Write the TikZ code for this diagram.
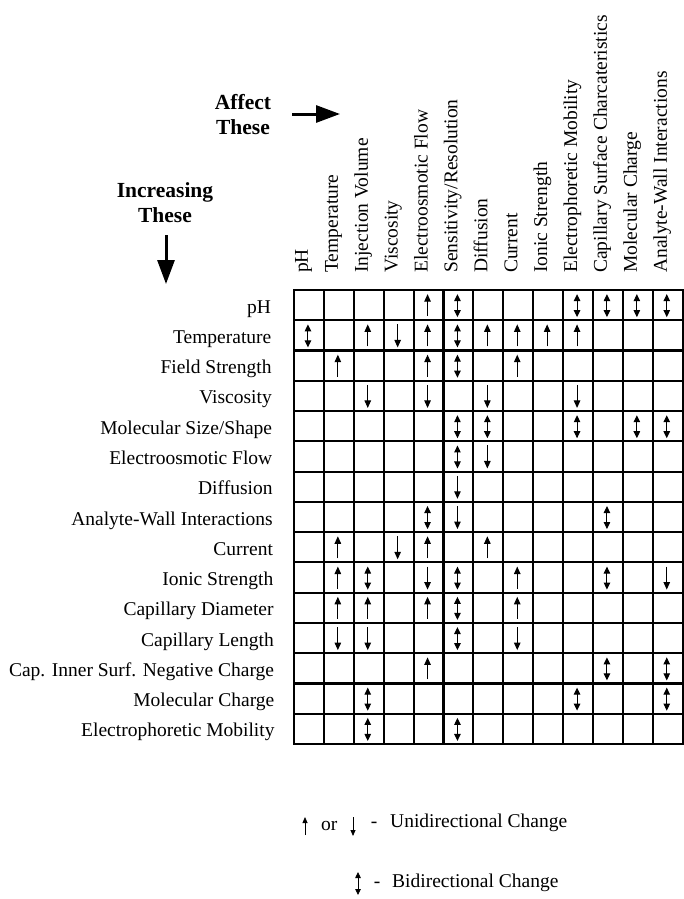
\documentclass[tikz,border=0pt]{standalone}
\usepackage{fontspec}
\setmainfont{Liberation Serif}
\usetikzlibrary{arrows.meta}
\begin{document}
\begin{tikzpicture}[x=1pt,y=-1pt,
  gridline/.style={line width=2.1pt, line cap=rect},
  uparrow/.style={line width=1pt, -{Triangle[length=7.5pt,width=6.5pt]}},
  biarrow/.style={line width=1pt, {Triangle[length=7pt,width=6.5pt]}-{Triangle[length=7pt,width=6.5pt]}},
  lgarrow/.style={line width=0.8pt, -{Triangle[length=6pt,width=5pt]}},
  lgbiarrow/.style={line width=0.8pt, {Triangle[length=6pt,width=5.5pt]}-{Triangle[length=6pt,width=5.5pt]}},
  rowlabel/.style={anchor=base east, inner sep=0pt, font=\fontsize{19.5}{22}\selectfont},
  collabel/.style={rotate=90, anchor=base west, inner sep=0pt, font=\fontsize{19.5}{22}\selectfont},
  headtext/.style={anchor=base, inner sep=0pt, font=\bfseries\fontsize{21.5}{25}\selectfont},
  legendtext/.style={anchor=base west, inner sep=0pt, font=\fontsize{19.5}{22}\selectfont},
  bigarrow/.style={line width=3pt, -{Triangle[length=24pt,width=17pt]}}
]
\useasboundingbox (0,0) rectangle (684,899);
\def\gx{294}\def\gy{290}\def\cw{29.9}\def\rh{30.27}

% header texts and arrows
\node[headtext] (affA) at (243,109) {Affect};
\node[headtext] (affB) at (243,134) {These};
\coordinate (raS) at (292,114);
\coordinate (raE) at (340,114);
\draw[bigarrow] (raS) -- (raE);
\node[headtext] (incA) at (165,197) {Increasing};
\node[headtext] (incB) at (165,222) {These};
\coordinate (daS) at (166,235);
\coordinate (daE) at (166,284);
\draw[bigarrow] (daS) -- (daE);

% column labels
\foreach \t [count=\c] in {pH,Temperature,Injection Volume,Viscosity,Electroosmotic Flow,Sensitivity/Resolution,Diffusion,Current,Ionic Strength,Electrophoretic Mobility,Capillary Surface Charcateristics,Molecular Charge,Analyte-Wall Interactions}
  \node[collabel] (col\c) at ({\gx+(\c-0.5)*\cw-1},273) {\t};

% row labels
\foreach \t [count=\r] in {pH,Temperature,Field Strength,Viscosity,Molecular Size/Shape,Electroosmotic Flow,Diffusion,Analyte-Wall Interactions,Current,Ionic Strength,Capillary Diameter,Capillary Length,Cap. Inner Surf. Negative Charge,Molecular Charge,Electrophoretic Mobility}
  \node[rowlabel] (row\r) at ({271+\r*0.25},{\gy+(\r-0.5)*\rh+8}) {\t};

% grid
\foreach \i in {0,...,13}
  \draw[gridline] ({\gx+\i*\cw},\gy) -- ({\gx+\i*\cw},{\gy+15*\rh});
\foreach \j in {0,...,15}
  \draw[gridline] (\gx,{\gy+\j*\rh}) -- ({\gx+13*\cw},{\gy+\j*\rh});

% up arrows
\foreach \r/\c in {1/5,2/3,2/5,2/7,2/8,2/9,2/10,3/2,3/5,3/8,9/2,9/5,9/7,10/2,10/8,11/2,11/3,11/5,11/8,13/5}
  \draw[uparrow] ({\gx+(\c-0.5)*\cw-1},{\gy+(\r-0.5)*\rh+11}) -- ({\gx+(\c-0.5)*\cw-1},{\gy+(\r-0.5)*\rh-11});
% down arrows
\foreach \r/\c in {2/4,4/3,4/5,4/7,4/10,6/7,7/6,8/6,9/4,10/5,10/13,12/2,12/3,12/8}
  \draw[uparrow] ({\gx+(\c-0.5)*\cw-1},{\gy+(\r-0.5)*\rh-11}) -- ({\gx+(\c-0.5)*\cw-1},{\gy+(\r-0.5)*\rh+12});
% bidirectional arrows
\foreach \r/\c in {1/6,1/10,1/11,1/12,1/13,2/1,2/6,3/6,5/6,5/7,5/10,5/12,5/13,6/6,8/5,8/11,10/3,10/6,10/11,11/6,12/6,13/11,13/13,14/3,14/10,14/13,15/3,15/6}
  \draw[biarrow] ({\gx+(\c-0.5)*\cw-1},{\gy+(\r-0.5)*\rh-11}) -- ({\gx+(\c-0.5)*\cw-1},{\gy+(\r-0.5)*\rh+12});

% legend
\coordinate (lu1) at (305,835);
\coordinate (lu2) at (305,817);
\draw[lgarrow] (lu1) -- (lu2);
\node[legendtext] (lor) at (321,830) {or};
\coordinate (ld1) at (353,817);
\coordinate (ld2) at (353,836);
\draw[lgarrow] (ld1) -- (ld2);
\node[anchor=base, inner sep=0pt, font=\fontsize{19.5}{22}\selectfont] (ldash1) at (374,827) {-};
\node[legendtext] (luni) at (390,827) {Unidirectional Change};
\coordinate (lb1) at (358,872);
\coordinate (lb2) at (358,895);
\draw[lgbiarrow] (lb1) -- (lb2);
\node[anchor=base, inner sep=0pt, font=\fontsize{19.5}{22}\selectfont] (ldash2) at (377,887) {-};
\node[legendtext] (lbi) at (392,887) {Bidirectional Change};
\end{tikzpicture}
\end{document}
